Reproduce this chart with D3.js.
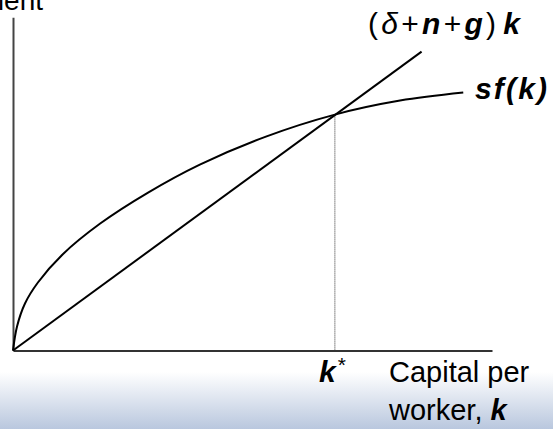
<!DOCTYPE html>
<html><head><meta charset="utf-8">
<script src="https://cdn.jsdelivr.net/npm/d3@7"></script>
<style>html,body{margin:0;padding:0;background:#fff;overflow:hidden}svg{display:block}</style>
</head><body>
<svg id="c" width="553" height="429"></svg>
<script>
// capital per worker (k) grid and read-off values, in chart units
const sfK = [0, 0.84, 2.5, 5.2, 10.4, 18.2, 28.2, 39.0, 52.8, 67.2, 80.8, 94.0];
const sfY = [0, 7.2, 14.1, 20.4, 28.9, 38.1, 47.4, 55.8, 64.2, 70.8, 75.0, 77.4];
const lineK = [0, 85.3];
const lineY = [0, 89.7];
const kStar = 67.2;
const xDomain = [0, 100];
const yDomain = [0, 100];

const svg = d3.select("#c");
const W = 553, H = 429;
const x = d3.scaleLinear().domain(xDomain).range([13, 492]);
const y = d3.scaleLinear().domain(yDomain).range([350.5, 17.3]);

// background gradient band
const defs = svg.append("defs");
const g = defs.append("linearGradient").attr("id","bg").attr("x1",0).attr("y1",0).attr("x2",0).attr("y2",1);
g.append("stop").attr("offset","0%").attr("stop-color","#ffffff");
g.append("stop").attr("offset","100%").attr("stop-color","#b9c7de");
svg.append("rect").attr("x",0).attr("y",372).attr("width",W).attr("height",H-372).attr("fill","url(#bg)");

// axes
const xAxis = d3.axisBottom(x).tickValues([]).tickSizeOuter(0);
const yAxis = d3.axisLeft(y).tickValues([]).tickSizeOuter(0);
svg.append("g").attr("transform",`translate(0,${y(0)})`).call(xAxis)
  .select(".domain").attr("stroke","#333").attr("stroke-width",2);
svg.append("g").attr("transform",`translate(${x(0)},0)`).call(yAxis)
  .select(".domain").attr("stroke","#444").attr("stroke-width",2);

// dotted k* line
const yStar = y(sfY[sfK.indexOf(kStar)]);
svg.append("line").attr("x1",x(kStar)).attr("x2",x(kStar)).attr("y1",yStar).attr("y2",y(0))
  .attr("stroke","#333").attr("stroke-width",1).attr("stroke-dasharray","1,1");

// sf(k) curve
const pts = sfK.map((k,i)=>[k,sfY[i]]);
svg.append("path").datum(pts)
  .attr("d", d3.line().x(d=>x(d[0])).y(d=>y(d[1])).curve(d3.curveCatmullRom.alpha(0.5)))
  .attr("fill","none").attr("stroke","#000").attr("stroke-width",2);

// break-even line
const lpts = lineK.map((k,i)=>[k,lineY[i]]);
svg.append("path").datum(lpts)
  .attr("d", d3.line().x(d=>x(d[0])).y(d=>y(d[1])))
  .attr("fill","none").attr("stroke","#000").attr("stroke-width",2);

const F = "'Liberation Sans', Arial, sans-serif";

// y label (cut off at top-left)
svg.append("text").attr("x",43).attr("y",10).attr("text-anchor","end")
  .attr("font-family",F).attr("font-size",28).attr("fill","#000").text("investment");

// (δ+n+g)k label
const t1 = svg.append("text").attr("x",368).attr("y",34).attr("font-family",F).attr("font-size",30).attr("fill","#000")
  .attr("textLength",152).attr("lengthAdjust","spacing");
t1.append("tspan").text("(");
t1.append("tspan").attr("font-style","italic").text("δ");
t1.append("tspan").text("+");
t1.append("tspan").attr("font-style","italic").attr("font-weight","bold").text("n");
t1.append("tspan").text("+");
t1.append("tspan").attr("font-style","italic").attr("font-weight","bold").text("g");
t1.append("tspan").text(")");
t1.append("tspan").attr("font-style","italic").attr("font-weight","bold").attr("dx",4).text("k");

// sf(k) label
svg.append("text").attr("x",475).attr("y",99).attr("font-family",F).attr("font-size",30)
  .attr("font-weight","bold").attr("font-style","italic").attr("fill","#000")
  .attr("textLength",72).attr("lengthAdjust","spacing").text("sf(k)");

// k* label
const t2 = svg.append("text").attr("x",319).attr("y",382).attr("font-family",F).attr("font-size",30).attr("fill","#000");
t2.append("tspan").attr("font-weight","bold").attr("font-style","italic").text("k");
t2.append("tspan").attr("font-size",21).attr("dy",-10).attr("dx",2).text("*");

// x axis label
svg.append("text").attr("x",389).attr("y",382).attr("font-family",F).attr("font-size",29).attr("fill","#000").text("Capital per");
const t3 = svg.append("text").attr("x",389).attr("y",420).attr("font-family",F).attr("font-size",29).attr("fill","#000");
t3.append("tspan").text("worker, ");
t3.append("tspan").attr("font-weight","bold").attr("font-style","italic").text("k");
</script>
</body></html>
